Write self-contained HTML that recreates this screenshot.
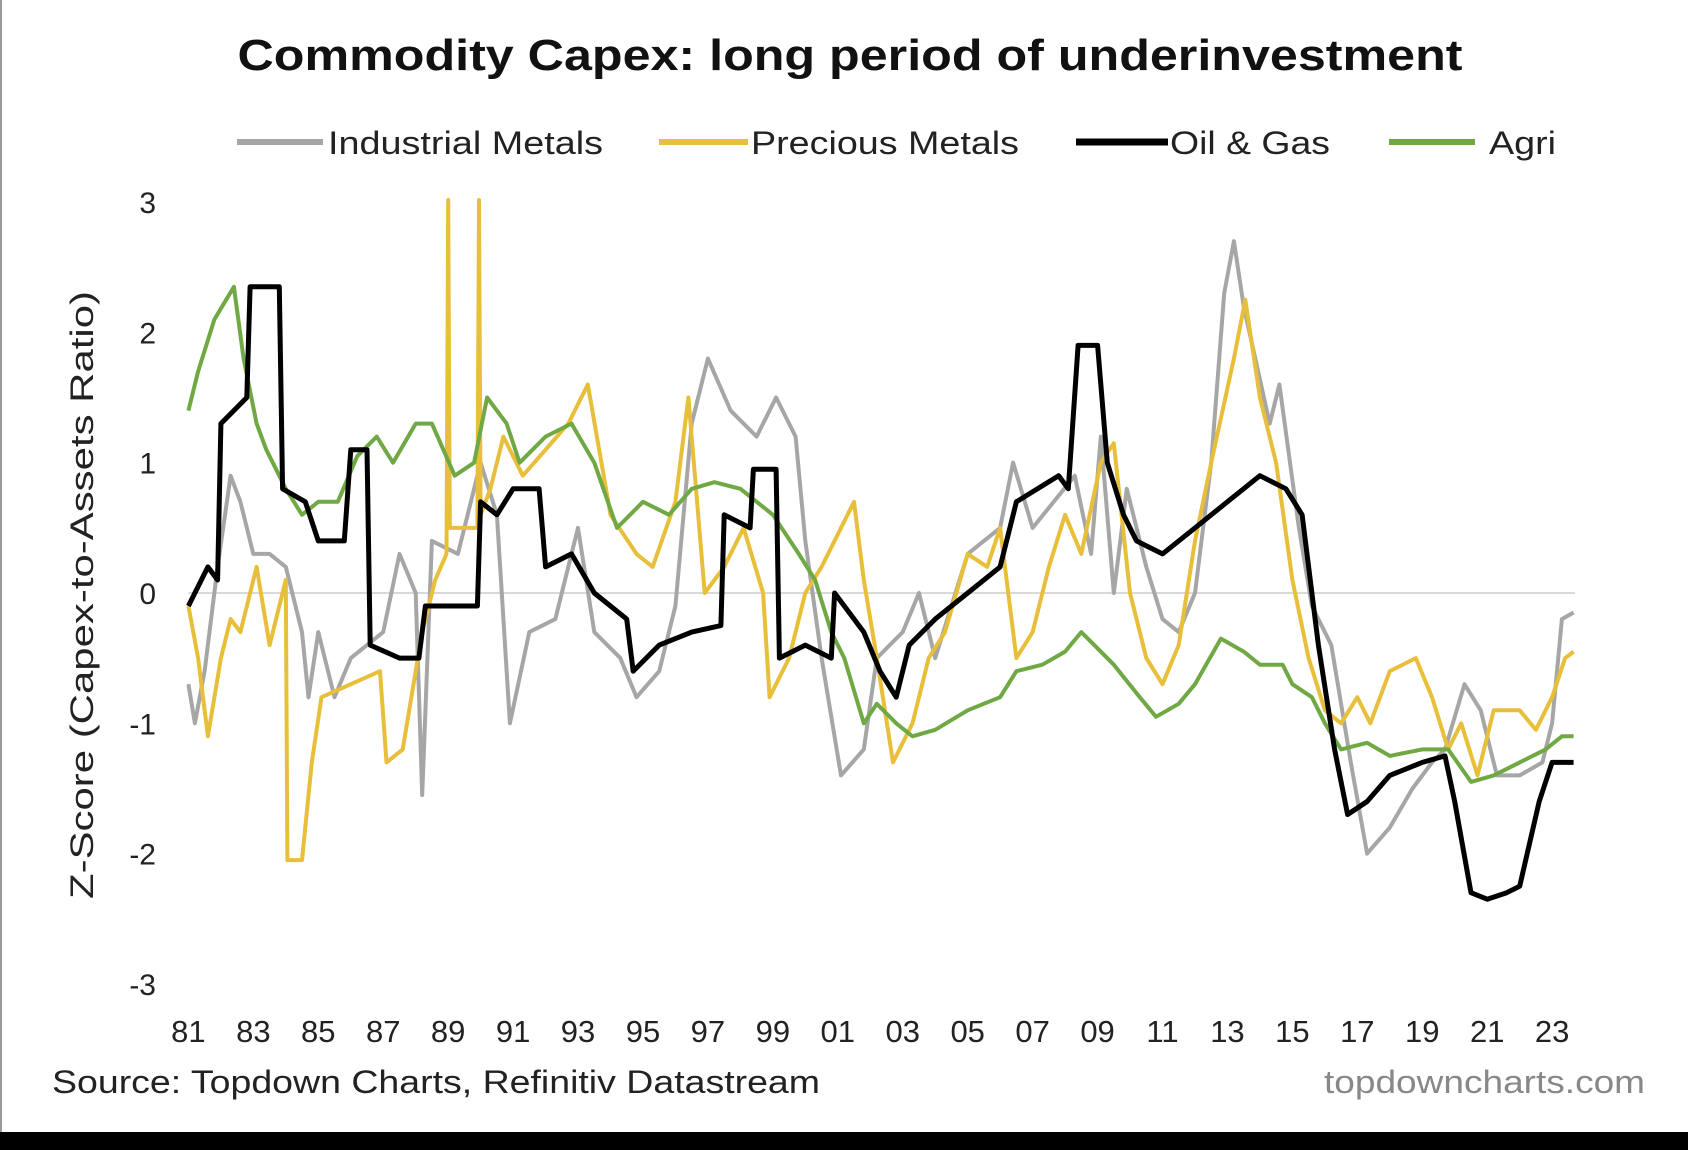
<!DOCTYPE html>
<html><head><meta charset="utf-8"><style>html,body{margin:0;padding:0;background:#fff}svg{display:block}</style></head>
<body>
<svg id="chart" width="1688" height="1150" viewBox="0 0 1688 1150" xmlns="http://www.w3.org/2000/svg" font-family="Liberation Sans, Arial, sans-serif">
<rect x="0" y="0" width="1688" height="1150" fill="#fff"/>
<rect x="0" y="0" width="2" height="1132" fill="#999"/>
<rect x="0" y="1132" width="1688" height="18" fill="#000"/>
<text x="850" y="70" text-anchor="middle" font-size="44" font-weight="bold" fill="#111" textLength="1225" lengthAdjust="spacingAndGlyphs">Commodity Capex: long period of underinvestment</text>
<g>
<g><line x1="237" y1="142" x2="323" y2="142" stroke="#a6a6a6" stroke-width="6"/><text x="328" y="154" font-size="32" fill="#222" textLength="275" lengthAdjust="spacingAndGlyphs">Industrial Metals</text></g>
<g><line x1="659" y1="142" x2="748" y2="142" stroke="#e8bf3a" stroke-width="6"/><text x="751" y="154" font-size="32" fill="#222" textLength="268" lengthAdjust="spacingAndGlyphs">Precious Metals</text></g>
<g><line x1="1076" y1="142" x2="1168" y2="142" stroke="#000" stroke-width="7"/><text x="1170" y="154" font-size="32" fill="#222" textLength="160" lengthAdjust="spacingAndGlyphs">Oil &amp; Gas</text></g>
<g><line x1="1389" y1="142" x2="1475" y2="142" stroke="#70a844" stroke-width="6"/><text x="1489" y="154" font-size="32" fill="#222" textLength="67" lengthAdjust="spacingAndGlyphs">Agri</text></g>
</g>
<text transform="translate(93,595) rotate(-90)" text-anchor="middle" font-size="32" fill="#222" textLength="608" lengthAdjust="spacingAndGlyphs">Z-Score (Capex-to-Assets Ratio)</text>
<g id="yticks"></g>
<g id="xticks"></g>
<g id="series"></g>
<text x="52" y="1093" font-size="32" fill="#222" textLength="768" lengthAdjust="spacingAndGlyphs">Source: Topdown Charts, Refinitiv Datastream</text>
<text x="1645" y="1093" text-anchor="end" font-size="32" fill="#888" textLength="321" lengthAdjust="spacingAndGlyphs">topdowncharts.com</text>
</svg>
<script>
const yTicks = [3, 2, 1, 0, -1, -2, -3];
const xTickYears = [1981,1983,1985,1987,1989,1991,1993,1995,1997,1999,2001,2003,2005,2007,2009,2011,2013,2015,2017,2019,2021,2023];
const xTickLabels = ["81","83","85","87","89","91","93","95","97","99","01","03","05","07","09","11","13","15","17","19","21","23"];

const indYears = [1981,1981.2,1981.5,1981.9,1982.3,1982.6,1983,1983.5,1984,1984.5,1984.7,1985,1985.5,1986,1987,1987.5,1988,1988.2,1988.5,1989.3,1990,1990.5,1990.9,1991.5,1992.3,1993,1993.5,1994.3,1994.8,1995.5,1996,1996.5,1997,1997.7,1998.5,1999.1,1999.7,2000,2000.5,2001.1,2001.8,2002.2,2003,2003.5,2004,2005,2006,2006.4,2007,2008.3,2008.8,2009.1,2009.5,2009.9,2010.5,2011,2011.5,2012,2012.5,2012.9,2013.2,2013.5,2014.3,2014.6,2015.2,2015.6,2016.2,2016.8,2017.3,2018,2018.7,2019.3,2019.7,2020.3,2020.8,2021.3,2022,2022.7,2023,2023.3,2023.66];
const indValues = [-0.7,-1.0,-0.6,0.2,0.9,0.7,0.3,0.3,0.2,-0.3,-0.8,-0.3,-0.8,-0.5,-0.3,0.3,0.0,-1.55,0.4,0.3,1.0,0.6,-1.0,-0.3,-0.2,0.5,-0.3,-0.5,-0.8,-0.6,-0.1,1.3,1.8,1.4,1.2,1.5,1.2,0.4,-0.5,-1.4,-1.2,-0.5,-0.3,0.0,-0.5,0.3,0.5,1.0,0.5,0.9,0.3,1.2,0.0,0.8,0.2,-0.2,-0.3,0.0,1.0,2.3,2.7,2.2,1.3,1.6,0.5,-0.1,-0.4,-1.3,-2.0,-1.8,-1.5,-1.3,-1.2,-0.7,-0.9,-1.4,-1.4,-1.3,-1.0,-0.2,-0.15];

const preYears = [1981,1981.3,1981.6,1982,1982.3,1982.6,1983.1,1983.5,1984,1984.05,1984.5,1984.8,1985.1,1986,1986.9,1987.1,1987.6,1987.8,1988.2,1988.6,1988.95,1989.0,1989.05,1989.5,1989.9,1989.95,1990.0,1990.3,1990.7,1991.3,1992,1992.7,1993.3,1994,1994.8,1995.3,1996,1996.4,1996.9,1997.5,1998.1,1998.7,1998.9,1999.5,2000,2000.5,2001.5,2001.8,2002.2,2002.7,2003.3,2003.8,2004.3,2005,2005.6,2006,2006.5,2007,2007.5,2008,2008.5,2009.1,2009.5,2010,2010.5,2011,2011.5,2012,2012.5,2013.2,2013.55,2014,2014.5,2015,2015.5,2016,2016.5,2017,2017.4,2018,2018.8,2019.3,2019.8,2020.2,2020.7,2021.2,2022,2022.5,2023,2023.4,2023.66];
const preValues = [-0.1,-0.5,-1.1,-0.5,-0.2,-0.3,0.2,-0.4,0.1,-2.05,-2.05,-1.3,-0.8,-0.7,-0.6,-1.3,-1.2,-0.9,-0.3,0.1,0.3,3.5,0.5,0.5,0.5,3.5,0.6,0.8,1.2,0.9,1.1,1.3,1.6,0.6,0.3,0.2,0.7,1.5,0.0,0.2,0.5,0.0,-0.8,-0.5,0.0,0.2,0.7,0.1,-0.5,-1.3,-1.0,-0.5,-0.3,0.3,0.2,0.5,-0.5,-0.3,0.2,0.6,0.3,1.0,1.15,0.0,-0.5,-0.7,-0.4,0.4,1.0,1.8,2.25,1.5,1.0,0.1,-0.5,-0.9,-1.0,-0.8,-1.0,-0.6,-0.5,-0.8,-1.2,-1.0,-1.4,-0.9,-0.9,-1.05,-0.8,-0.5,-0.45];

const oilYears = [1981,1981.6,1981.9,1982.0,1982.8,1982.9,1983.8,1983.9,1984.6,1985,1985.8,1986.0,1986.5,1986.6,1987.5,1988.1,1988.3,1989.9,1990.0,1990.5,1991.0,1991.8,1992.0,1992.8,1993.5,1994.5,1994.7,1995.5,1996.5,1997.4,1997.5,1998.3,1998.4,1999.1,1999.2,2000.0,2000.8,2000.9,2001.8,2002.3,2002.8,2003.2,2004.0,2005.0,2006.0,2006.5,2007.8,2008.1,2008.4,2009.0,2009.3,2009.8,2010.2,2011.0,2012.0,2013.0,2014.0,2014.8,2015.3,2015.8,2016.3,2016.7,2017.3,2018.0,2019.0,2019.7,2020.0,2020.5,2021.0,2021.6,2022.0,2022.6,2023.0,2023.66];
const oilValues = [-0.1,0.2,0.1,1.3,1.5,2.35,2.35,0.8,0.7,0.4,0.4,1.1,1.1,-0.4,-0.5,-0.5,-0.1,-0.1,0.7,0.6,0.8,0.8,0.2,0.3,0.0,-0.2,-0.6,-0.4,-0.3,-0.25,0.6,0.5,0.95,0.95,-0.5,-0.4,-0.5,0.0,-0.3,-0.6,-0.8,-0.4,-0.2,0.0,0.2,0.7,0.9,0.8,1.9,1.9,1.0,0.6,0.4,0.3,0.5,0.7,0.9,0.8,0.6,-0.4,-1.2,-1.7,-1.6,-1.4,-1.3,-1.25,-1.6,-2.3,-2.35,-2.3,-2.25,-1.6,-1.3,-1.3];

const agriYears = [1981,1981.3,1981.8,1982.4,1982.7,1983.1,1983.4,1984,1984.5,1985,1985.6,1986.2,1986.8,1987.3,1988,1988.5,1989.2,1989.8,1990.2,1990.8,1991.2,1992,1992.8,1993.5,1994.2,1995,1995.8,1996.5,1997.2,1998,1999,1999.8,2000.3,2000.8,2001.2,2001.8,2002.2,2002.8,2003.3,2004,2005,2006,2006.5,2007.3,2008.0,2008.5,2009.5,2010.3,2010.8,2011.5,2012.0,2012.8,2013.5,2014.0,2014.7,2015.0,2015.6,2016.0,2016.5,2017.3,2018,2019,2019.8,2020.5,2021.2,2022,2022.8,2023.3,2023.66];
const agriValues = [1.4,1.7,2.1,2.35,1.8,1.3,1.1,0.8,0.6,0.7,0.7,1.05,1.2,1.0,1.3,1.3,0.9,1.0,1.5,1.3,1.0,1.2,1.3,1.0,0.5,0.7,0.6,0.8,0.85,0.8,0.6,0.3,0.1,-0.3,-0.5,-1.0,-0.85,-1.0,-1.1,-1.05,-0.9,-0.8,-0.6,-0.55,-0.45,-0.3,-0.55,-0.8,-0.95,-0.85,-0.7,-0.35,-0.45,-0.55,-0.55,-0.7,-0.8,-1.0,-1.2,-1.15,-1.25,-1.2,-1.2,-1.45,-1.4,-1.3,-1.2,-1.1,-1.1];

const NS = "http://www.w3.org/2000/svg";
function xScale(yr){ return 188.4 + (yr - 1981) * 32.47; }
function yScale(v){ return 593 - v * 130.3; }
const PLOT_TOP = 200, PLOT_BOT = 985;

const yg = document.getElementById('yticks');
yTicks.forEach(function(t){
  const tx = document.createElementNS(NS,'text');
  tx.setAttribute('x', 156);
  tx.setAttribute('y', yScale(t) + 11);
  tx.setAttribute('text-anchor','end');
  tx.setAttribute('font-size','30');
  tx.setAttribute('fill','#222');
  tx.textContent = String(t);
  
  
  yg.appendChild(tx);
});
const zl = document.createElementNS(NS,'line');
zl.setAttribute('x1', xScale(1981)); zl.setAttribute('x2', xScale(2023.7));
zl.setAttribute('y1', yScale(0)); zl.setAttribute('y2', yScale(0));
zl.setAttribute('stroke','#d9d9d9'); zl.setAttribute('stroke-width','2');


yg.appendChild(zl);

const xg = document.getElementById('xticks');
xTickYears.forEach(function(yr, i){
  const tx = document.createElementNS(NS,'text');
  tx.setAttribute('x', xScale(yr));
  tx.setAttribute('y', 1042);
  tx.setAttribute('text-anchor','middle');
  tx.setAttribute('font-size','31');
  tx.setAttribute('fill','#222');
  tx.textContent = xTickLabels[i];
  
  
  xg.appendChild(tx);
});

const sg = document.getElementById('series');
function drawSeries(years, values, color, width, name){
  let d = '';
  years.forEach(function(yr, i){
    let y = yScale(values[i]);
    if (y < PLOT_TOP) y = PLOT_TOP;
    if (y > PLOT_BOT) y = PLOT_BOT;
    d += (i ? 'L' : 'M') + xScale(yr).toFixed(1) + ',' + y.toFixed(1);
  });
  const p = document.createElementNS(NS,'path');
  p.setAttribute('d', d);
  p.setAttribute('fill','none');
  p.setAttribute('stroke', color);
  p.setAttribute('stroke-width', width);
  p.setAttribute('stroke-linejoin','round');
  
  
  sg.appendChild(p);
}
drawSeries(indYears, indValues, '#a6a6a6', 4, 'industrial-metals-line');
drawSeries(preYears, preValues, '#e8bf3a', 4, 'precious-metals-line');
drawSeries(agriYears, agriValues, '#70a844', 4, 'agri-line');
drawSeries(oilYears, oilValues, '#000000', 5, 'oil-gas-line');
</script>
</body></html>
